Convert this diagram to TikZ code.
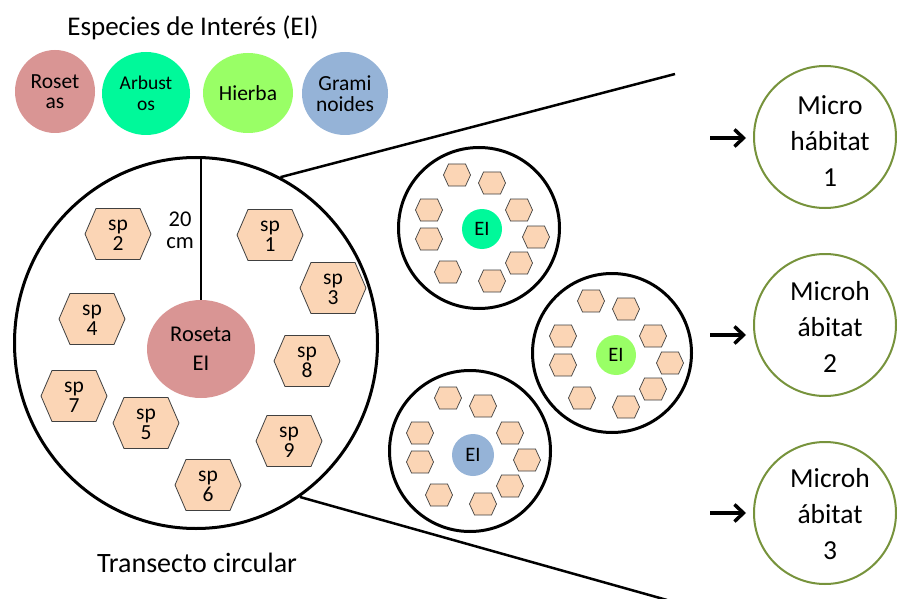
\documentclass[tikz,border=0pt]{standalone}
\usepackage{fontspec}
\setmainfont{Carlito}
\usetikzlibrary{shapes.geometric,arrows.meta}
\definecolor{rosa}{HTML}{D99594}
\definecolor{arbus}{HTML}{00F99A}
\definecolor{hierba}{HTML}{99FF66}
\definecolor{gram}{HTML}{95B3D7}
\definecolor{peach}{HTML}{FBD5B5}
\definecolor{olive}{HTML}{77933C}
\definecolor{hexline}{HTML}{404040}
\tikzset{
  legendball/.style={ellipse,inner sep=0pt,align=center,font=\fontsize{21.5}{20.5}\selectfont},
  bighexstyle/.style={draw=hexline,fill=peach,line width=0.8pt},
  smallhexstyle/.style={draw=hexline,fill=peach,line width=0.7pt},
  sptext/.style={inner sep=0pt,align=center,font=\fontsize{21.5}{20}\selectfont},
  bigring/.style={circle,draw=black,line width=3pt,inner sep=0pt},
  eiball/.style={circle,inner sep=0pt,minimum size=40pt,font=\fontsize{20.5}{20}\selectfont},
  microring/.style={circle,draw=olive,line width=2pt,minimum size=142pt,inner sep=0pt},
  microtext/.style={align=center,inner sep=0pt,font=\fontsize{27.5}{36}\selectfont},
  zoomline/.style={line width=2.5pt},
  bigarrow/.style={line width=3.5pt,-{Straight Barb[length=9pt,width=17pt]}}
}
\newcommand{\bighex}[4]{%
  \path[bighexstyle] (#2,#3) ++(-33,0) -- ++(11,-25.5) -- ++(44,0) -- ++(11,25.5) -- ++(-11,25.5) -- ++(-44,0) -- cycle;
  \node[sptext] (#1) at (#2,#3+1) {sp\\#4};}
\newcommand{\hexring}[1]{%
  \foreach \dx/\dy in {-25/-54,10/-46,-53/-19,-53/10,37/-19,54/8,37/34,-34/43,10/52}{
    \path[smallhexstyle] ([shift={(\dx,\dy)}]#1) ++(-13.5,0) -- ++(5,-11) -- ++(17,0) -- ++(5,11) -- ++(-5,11) -- ++(-17,0) -- cycle;
  }}
\begin{document}
\begin{tikzpicture}[x=1pt,y=-1pt]
\useasboundingbox[fill=white] (0,0) rectangle (897,599);

% title and legend
\node[font=\fontsize{27}{27}\selectfont] (title) at (193,28) {Especies de Interés (EI)};
\node[legendball,fill=rosa,minimum width=80pt,minimum height=83pt] (lros) at (55,91.5) {Roset\\as};
\node[legendball,fill=arbus,minimum width=88pt,minimum height=83pt,font=\fontsize{19.5}{21}\selectfont] (larb) at (146,93.5) {Arbust\\os};
\node[legendball,fill=hierba,minimum width=90pt,minimum height=80pt] (lhie) at (248,93) {Hierba};
\node[legendball,fill=gram,minimum width=86pt,minimum height=83pt] (lgra) at (345,93.5) {Grami\\noides};

% big transect circle
\node[ellipse,draw=black,line width=3pt,minimum width=363pt,minimum height=371pt,inner sep=0pt] (big) at (196,343) {};
\node[ellipse,fill=rosa,minimum width=108pt,minimum height=98pt,inner sep=0pt,align=center,font=\fontsize{22.5}{29}\selectfont] (ros) at (201,349) {Roseta\\EI};
\draw[line width=2.5pt] (big.north -| ros.north) -- (ros.north);
\node[align=center,inner sep=0pt,font=\fontsize{22.5}{22}\selectfont] (cm) at (180,230) {20\\cm};

\bighex{sp1}{270}{235}{1}
\bighex{sp2}{118}{234}{2}
\bighex{sp3}{333}{288}{3}
\bighex{sp4}{92}{319}{4}
\bighex{sp5}{146}{423}{5}
\bighex{sp6}{208}{485}{6}
\bighex{sp7}{74}{396}{7}
\bighex{sp8}{307}{361}{8}
\bighex{sp9}{289}{441}{9}

\node (trans) at (197,563) [font=\fontsize{28}{28}\selectfont] {Transecto circular};

% zoom lines
\coordinate (zt) at (675,74);
\coordinate (zb) at (667,600);
\draw[zoomline] (big.63) -- (zt);
\draw[zoomline] (big.-56.5) -- (zb);

% small circles
\node[bigring,minimum size=161pt] (cA) at (479,228) {};
\node[bigring,minimum size=159pt] (cB) at (612,353) {};
\node[bigring,minimum size=161pt] (cC) at (470,451) {};
\coordinate (pA) at (482,229);
\coordinate (pB) at (616,355);
\coordinate (pC) at (473,452);
\hexring{pA}
\hexring{pB}
\hexring{pC}
\node[eiball,fill=arbus] (eA) at (482,229) {EI};
\node[eiball,fill=hierba] (eB) at (616,355) {EI};
\node[eiball,fill=gram,minimum size=42pt] (eC) at (473,455) {EI};

% microhabitats
\node[microring] (m1) at (825,137) {};
\node[microring] (m2) at (825,325) {};
\node[microring] (m3) at (825,513) {};
\node[microtext] (t1) at (830,141) {Micro\\hábitat\\1};
\node[microtext] (t2) at (830,327) {Microh\\ábitat\\2};
\node[microtext] (t3) at (830,514) {Microh\\ábitat\\3};

\coordinate (a1) at (710,138);
\coordinate (a2) at (710,335);
\coordinate (a3) at (710,513);
\draw[bigarrow,shorten >=7pt] (a1) -- (a1 -| m1.west);
\draw[bigarrow,shorten >=7pt] (a2) -- (a2 -| m2.west);
\draw[bigarrow,shorten >=7pt] (a3) -- (a3 -| m3.west);
\end{tikzpicture}
\end{document}
